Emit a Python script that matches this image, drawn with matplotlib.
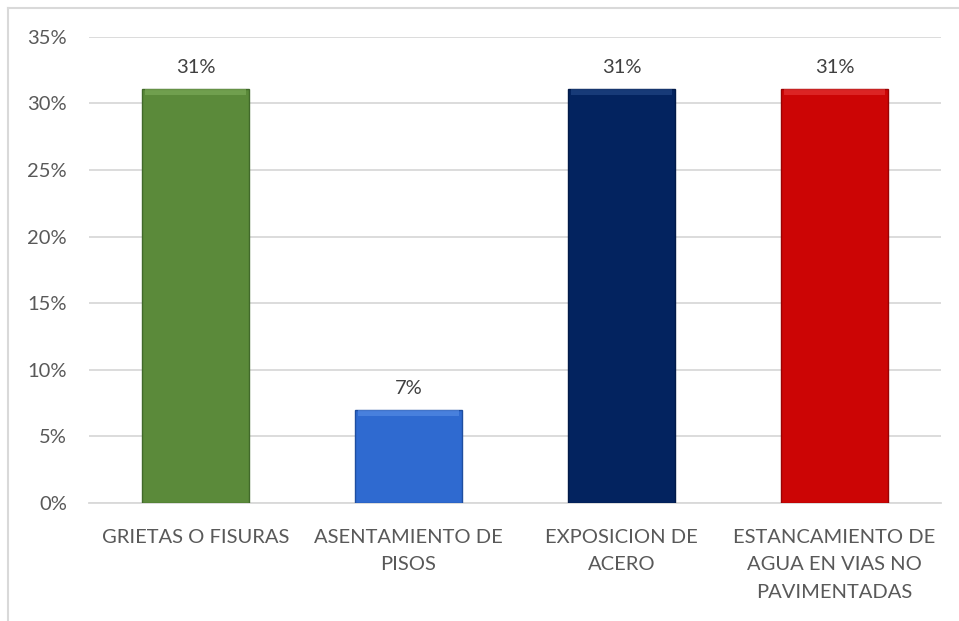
import matplotlib
matplotlib.use("Agg")
import matplotlib.pyplot as plt
from matplotlib.ticker import FuncFormatter

categories = ["GRIETAS O FISURAS", "ASENTAMIENTO DE\nPISOS", "EXPOSICION DE\nACERO",
              "ESTANCAMIENTO DE\nAGUA EN VIAS NO\nPAVIMENTADAS"]
values = [31.1, 7.0, 31.1, 31.1]
labels = ["31%", "7%", "31%", "31%"]
colors = ["#5B8A3A", "#2F6AD0", "#03235F", "#CC0505"]
edges = ["#41692A", "#1F4EA0", "#021A48", "#990303"]
highlights = ["#7FAE5C", "#5A8FE6", "#254A8A", "#E83A3A"]
yticks = [0, 5, 10, 15, 20, 25, 30, 35]

plt.rcParams['font.family'] = ['Lato', 'DejaVu Sans']

fig = plt.figure(figsize=(9.59, 6.21), dpi=100)
# outer chart frame (top and left visible)
fig.add_artist(plt.Line2D([8/959, 1], [1-8/621, 1-8/621], color="#D9D9D9", lw=1.5))
fig.add_artist(plt.Line2D([8/959, 8/959], [0, 1-8/621], color="#D9D9D9", lw=1.5))

ax = fig.add_axes([89/959, 1-503/621, (941-89)/959, (503-36.7)/621])
x = range(len(categories))
bars = ax.bar(x, values, width=0.5, color=colors, edgecolor=edges, linewidth=1.0, zorder=3)
# bevel-like highlight along the top of each bar
ax.bar(x, [0.45]*len(values), bottom=[v - 0.5 for v in values], width=0.47,
       color=highlights, linewidth=0, zorder=4, alpha=0.6)
for b, lab in zip(bars, labels):
    ax.annotate(lab, (b.get_x() + b.get_width()/2, b.get_height()), xytext=(0, 9),
                textcoords="offset points", ha="center", va="bottom", fontsize=14.5, color="#404040")

ax.set_ylim(0, 35)
ax.set_xlim(-0.5, len(categories) - 0.5)
ax.set_yticks(yticks)
ax.yaxis.set_major_formatter(FuncFormatter(lambda v, p: f"{v:.0f}%"))
ax.set_xticks(list(x))
ax.set_xticklabels(categories, linespacing=1.72)
ax.tick_params(axis="both", length=0, labelsize=14.5, colors="#595959")
ax.tick_params(axis="x", pad=19)
ax.tick_params(axis="y", pad=16)
ax.grid(axis="y", color="#D9D9D9", lw=1.3, zorder=0)
for s in ["top", "right", "left"]:
    ax.spines[s].set_visible(False)
ax.spines["bottom"].set_color("#D9D9D9")
ax.spines["bottom"].set_linewidth(1.3)

fig.savefig("out.png", dpi=100, facecolor="white")
